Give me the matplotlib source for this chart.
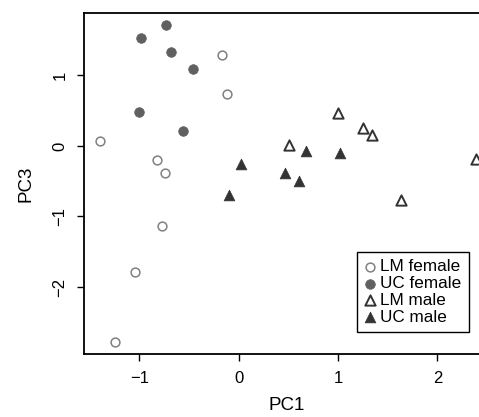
import matplotlib
matplotlib.use("Agg")
from matplotlib import pyplot as plt

# PCA scores
lm_female_x = [-0.17, -0.12, -1.40, -0.82, -0.74, -0.77, -1.04, -1.24]
lm_female_y = [1.29, 0.74, 0.07, -0.20, -0.38, -1.14, -1.79, -2.78]

uc_female_x = [-0.98, -0.73, -0.68, -0.46, -1.00, -0.56]
uc_female_y = [1.53, 1.71, 1.33, 1.09, 0.48, 0.21]

lm_male_x = [1.00, 1.25, 1.34, 0.51, 1.63, 2.39]
lm_male_y = [0.47, 0.25, 0.16, 0.01, -0.77, -0.18]

uc_male_x = [0.68, 1.02, 0.47, 0.61, 0.02, -0.10]
uc_male_y = [-0.07, -0.10, -0.39, -0.49, -0.26, -0.69]

plt.rcParams["font.family"] = ["Liberation Sans", "DejaVu Sans"]

fig = plt.figure(figsize=(4.79, 4.17), dpi=100)
ax = fig.add_axes([84 / 479, 1 - 354 / 417, (490 - 84) / 479, (354 - 13) / 417])

ax.scatter(lm_female_x, lm_female_y, s=40, marker="o", facecolor="white",
           edgecolor="#808080", linewidths=1.1, label="LM female")
ax.scatter(uc_female_x, uc_female_y, s=48, marker="o", facecolor="#606060",
           edgecolor="#606060", linewidths=0.5, label="UC female")
ax.scatter(lm_male_x, lm_male_y, s=55, marker="^", facecolor="white",
           edgecolor="#333333", linewidths=1.4, label="LM male")
ax.scatter(uc_male_x, uc_male_y, s=60, marker="^", facecolor="#333333",
           edgecolor="#333333", linewidths=0.5, label="UC male")

ax.set_xlim(-1.556, 2.53)
ax.set_ylim(-2.95, 1.885)
ax.set_xticks([-1, 0, 1, 2])
ax.set_yticks([-2, -1, 0, 1])
ax.set_xticklabels(["\u22121", "0", "1", "2"])
ax.set_yticklabels(["\u22122", "\u22121", "0", "1"], rotation=90, va="center")
ax.tick_params(direction="out", length=5, width=1, labelsize=12, pad=7)

for sp in ax.spines.values():
    sp.set_linewidth(1.3)

ax.set_xlabel("PC1", fontsize=13.5, labelpad=8)
ax.set_ylabel("PC3", fontsize=13.5, labelpad=13)

leg = ax.legend(loc="upper left", bbox_to_anchor=(357 / 479, 1 - 251.7 / 417),
                bbox_transform=fig.transFigure, fontsize=12.3, frameon=True,
                fancybox=False, edgecolor="black", framealpha=1,
                handlelength=0.6, handletextpad=0.3, labelspacing=0.1,
                borderpad=0.45, borderaxespad=0, scatterpoints=1)
leg.get_frame().set_linewidth(1.0)

fig.savefig("out.png", dpi=100)
